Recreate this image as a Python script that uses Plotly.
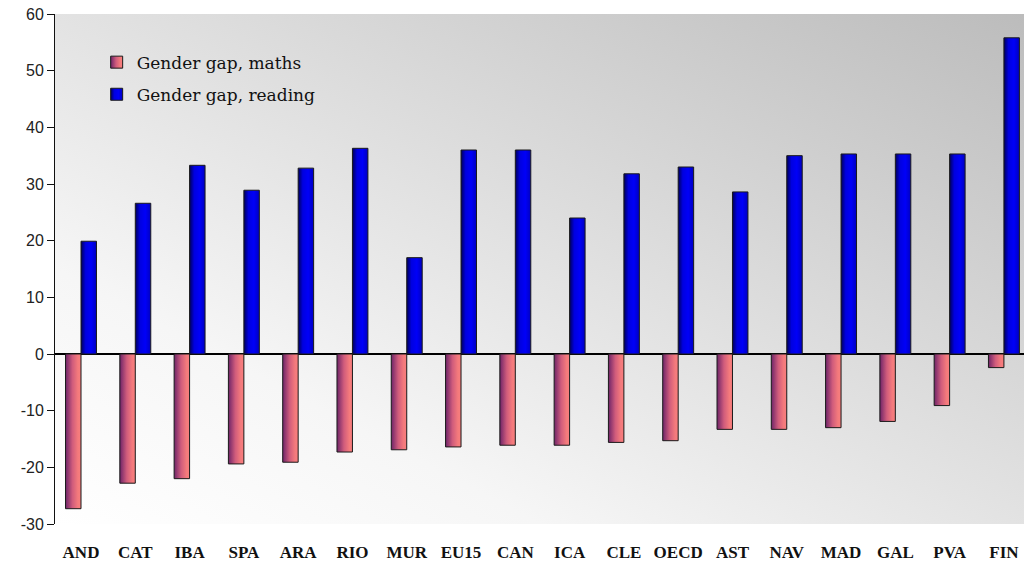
import base64
import plotly.graph_objects as go

categories = ["AND", "CAT", "IBA", "SPA", "ARA", "RIO", "MUR", "EU15", "CAN", "ICA",
              "CLE", "OECD", "AST", "NAV", "MAD", "GAL", "PVA", "FIN"]
maths_gap = [-27.3, -22.8, -22.0, -19.4, -19.1, -17.3, -16.9, -16.4, -16.1, -16.1,
             -15.6, -15.3, -13.3, -13.3, -13.0, -11.9, -9.1, -2.4]
reading_gap = [19.9, 26.6, 33.3, 28.9, 32.8, 36.3, 17.0, 36.0, 36.0, 24.0,
               31.8, 33.0, 28.6, 35.0, 35.3, 35.3, 35.3, 55.8]
y_ticks = [-30, -20, -10, 0, 10, 20, 30, 40, 50, 60]
y_tick_text = [str(v) for v in y_ticks]

bg_svg = (
    '<svg xmlns="http://www.w3.org/2000/svg" width="100" height="100" preserveAspectRatio="none">'
    '<defs><linearGradient id="g" x1="0" y1="1" x2="1" y2="0">'
    '<stop offset="0" stop-color="#ffffff"/>'
    '<stop offset="0.25" stop-color="#f6f6f6"/>'
    '<stop offset="1" stop-color="#bcbcbc"/>'
    '</linearGradient></defs>'
    '<rect width="100" height="100" fill="url(#g)"/></svg>'
)
bg_uri = "data:image/svg+xml;base64," + base64.b64encode(bg_svg.encode()).decode()

fig = go.Figure()
fig.add_trace(go.Bar(
    x=categories, y=maths_gap, name="Gender gap, maths", legendgroup="m",
    marker=dict(color="#d0607a", line=dict(color="#1a1a1a", width=1)),
))
fig.add_trace(go.Bar(
    x=categories, y=reading_gap, name="Gender gap, reading", legendgroup="r",
    marker=dict(color="#0000e0", line=dict(color="#1a1a1a", width=1)),
))

fig.update_layout(
    width=1024, height=566,
    margin=dict(l=55, r=0, t=14, b=42),
    paper_bgcolor="white",
    plot_bgcolor="rgba(0,0,0,0)",
    barmode="group", bargap=0.43, bargroupgap=0,
    showlegend=True,
    legend=dict(
        x=0.043, y=0.94, xanchor="left", yanchor="top",
        bgcolor="rgba(0,0,0,0)", borderwidth=0,
        font=dict(family="DejaVu Serif", size=17, color="#111"),
        tracegroupgap=7,
    ),
    images=[dict(
        source=bg_uri, xref="paper", yref="paper", x=0, y=1,
        sizex=1, sizey=1, xanchor="left", yanchor="top",
        sizing="stretch", layer="below",
    )],
    xaxis=dict(
        type="category", range=[-0.479, 17.37],
        showgrid=False, zeroline=False, showline=False, ticks="",
        ticklabelstandoff=16,
        tickfont=dict(family="Liberation Serif", size=17, color="#111", weight="bold"),
    ),
    yaxis=dict(
        range=[-30, 60], tickvals=y_ticks, ticktext=y_tick_text,
        showgrid=False, zeroline=True, zerolinecolor="#000", zerolinewidth=2,
        showline=True, linecolor="#111", linewidth=1,
        ticks="outside", ticklen=7, tickcolor="#111",
        tickfont=dict(family="Liberation Sans", size=16, color="#222"),
    ),
)

post_js = """
document.body.style.margin = '0';
document.body.style.overflow = 'hidden';
var gd = document.getElementById('{plot_id}');
function applyGrad(){
  var svg = gd.querySelector('svg.main-svg');
  if(!svg) return;
  var ns = 'http://www.w3.org/2000/svg';
  var defs = svg.querySelector('defs');
  if(!defs){ defs = document.createElementNS(ns,'defs'); svg.insertBefore(defs, svg.firstChild); }
  function mk(id, stops){
    if(svg.querySelector('#'+id)) return;
    var g = document.createElementNS(ns,'linearGradient');
    g.setAttribute('id', id);
    g.setAttribute('x1','0'); g.setAttribute('y1','0');
    g.setAttribute('x2','1'); g.setAttribute('y2','0');
    stops.forEach(function(s){
      var st = document.createElementNS(ns,'stop');
      st.setAttribute('offset', s[0]); st.setAttribute('stop-color', s[1]);
      g.appendChild(st);
    });
    defs.appendChild(g);
  }
  mk('gpink', [[0,'#6e2468'],[0.45,'#d05c7c'],[0.8,'#f47a7c'],[1,'#f87e7e']]);
  mk('gblue', [[0,'#00005a'],[0.3,'#0000e0'],[0.65,'#0000f8'],[1,'#0000c0']]);
  var ids = ['gpink','gblue'];
  var traces = gd.querySelectorAll('.barlayer .trace');
  traces.forEach(function(t, i){
    t.querySelectorAll('path').forEach(function(p){ p.style.fill = 'url(#'+ids[i]+')'; });
  });
  var leg = gd.querySelectorAll('.legend .traces');
  leg.forEach(function(t, i){
    t.querySelectorAll('.legendpoints path').forEach(function(p){ p.style.fill = 'url(#'+ids[i]+')'; });
  });
}
applyGrad();
gd.on && gd.on('plotly_afterplot', applyGrad);
"""

fig.write_html("out.html", post_script=post_js, config={"displayModeBar": False})
